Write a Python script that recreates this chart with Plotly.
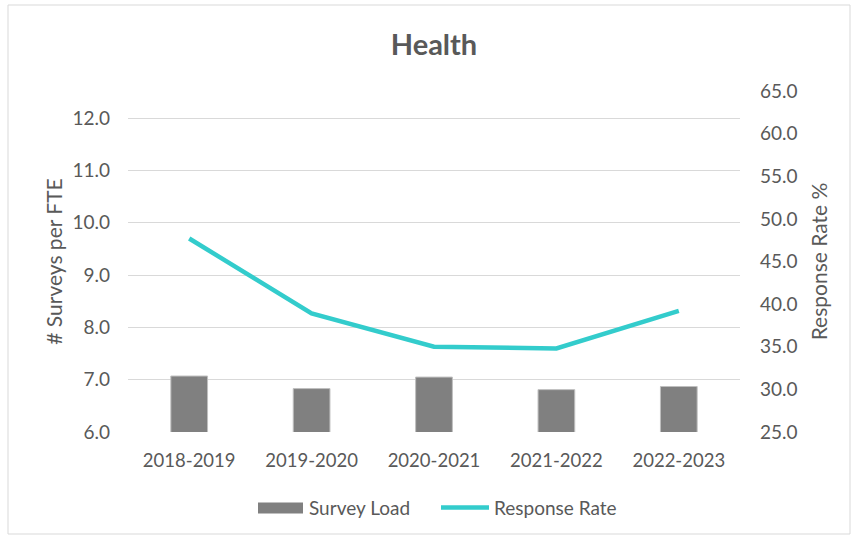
import plotly.graph_objects as go

categories = ["2018-2019", "2019-2020", "2020-2021", "2021-2022", "2022-2023"]
survey_load = [7.07, 6.83, 7.05, 6.81, 6.87]
response_rate = [47.7, 38.9, 35.0, 34.8, 39.2]

FONT = "Lato"
TXT = "#595959"
BAR = "#808080"
LINE = "#33CCCC"

# plot area in pixels: x 128..740, y 91..432
L, R, T, B = 128, 740, 91, 432
def px(x):
    return (x - L) / (R - L)
def py(y):
    return (B - y) / (B - T)

fig = go.Figure()
fig.add_trace(go.Bar(
    x=categories, y=survey_load, name="Survey Load",
    marker=dict(color=BAR, line=dict(color="#bfbfbf", width=1)),
    width=0.3, yaxis="y", showlegend=False))
fig.add_trace(go.Scatter(
    x=categories, y=response_rate, name="Response Rate", mode="lines",
    line=dict(color=LINE, width=4.5), yaxis="y2", showlegend=False))

shapes = [
    dict(type="rect", xref="paper", yref="paper",
         x0=px(8), x1=px(850), y0=py(534), y1=py(5),
         line=dict(color="#d9d9d9", width=1), fillcolor="rgba(0,0,0,0)", layer="below"),
    # legend keys
    dict(type="rect", xref="paper", yref="paper",
         x0=px(258), x1=px(303), y0=py(513.5), y1=py(502.5),
         line=dict(width=0), fillcolor=BAR),
    dict(type="line", xref="paper", yref="paper",
         x0=px(441), x1=px(489), y0=py(507.5), y1=py(507.5),
         line=dict(color=LINE, width=4.5)),
]
annotations = [
    dict(text="Survey Load", xref="paper", yref="paper", x=px(307), y=py(507.5),
         xanchor="left", yanchor="middle", showarrow=False,
         font=dict(family=FONT, size=19, color=TXT)),
    dict(text="Response Rate", xref="paper", yref="paper", x=px(492), y=py(507.5),
         xanchor="left", yanchor="middle", showarrow=False,
         font=dict(family=FONT, size=19, color=TXT)),
]

fig.update_layout(
    width=852, height=538,
    margin=dict(l=L, r=852 - R, t=T, b=538 - B),
    paper_bgcolor="white", plot_bgcolor="white",
    font=dict(family=FONT, size=18.5, color=TXT),
    title=dict(text="<b>Health</b>", x=px(434), xref="paper", xanchor="center",
               y=1 - 45 / 538, yanchor="middle",
               font=dict(family=FONT, size=29, color=TXT)),
    xaxis=dict(type="category", showgrid=False, showline=False, ticks="",
               tickfont=dict(size=18.5, color=TXT), ticklabelstandoff=15),
    yaxis=dict(range=[6, 12.52], dtick=1, tickformat=".1f", showgrid=True,
               gridcolor="#d9d9d9", gridwidth=1.3, zeroline=False, showline=False,
               ticks="", ticklabelstandoff=17, tickfont=dict(size=19, color=TXT),
               title=dict(text="# Surveys per FTE", font=dict(size=21, color=TXT), standoff=4)),
    yaxis2=dict(range=[25, 65], dtick=5, tickformat=".1f", overlaying="y", side="right",
                showgrid=False, zeroline=False, showline=False, ticks="", ticklabelstandoff=19,
                tickfont=dict(size=19, color=TXT),
                title=dict(text="Response Rate %", font=dict(size=21, color=TXT), standoff=15)),
    showlegend=False,
    shapes=shapes,
    annotations=annotations,
)

fig.write_html("out.html")
